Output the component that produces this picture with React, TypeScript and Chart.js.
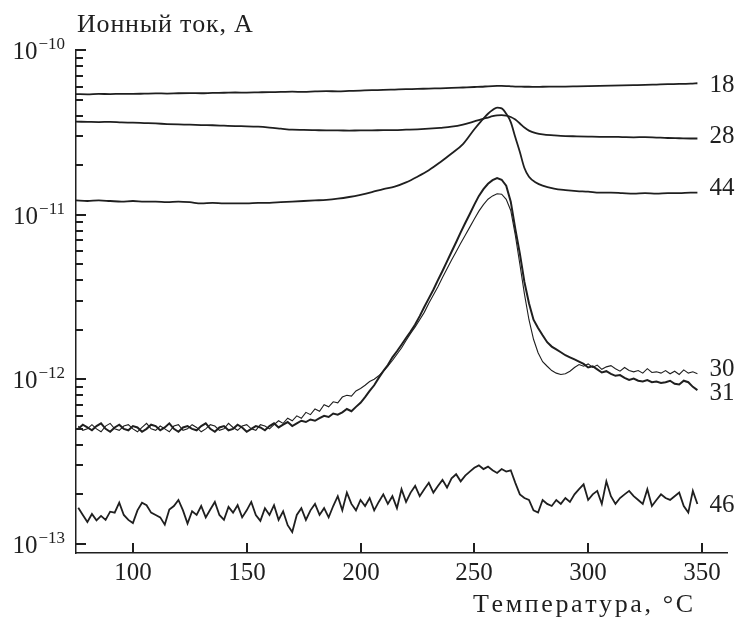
import React, { useEffect, useRef } from "react";
import { Chart, registerables } from "chart.js";

Chart.register(...registerables);

// Ion current values are written in pA (1e-12 A); converted to A for the axis.
const PA = 1e-12;

// Temperature grid (°C) for the smooth traces 18, 28, 44
const TEMP_SMOOTH = [
  75, 80, 85, 90, 95, 100, 105, 110, 115, 120,
  125, 130, 135, 140, 145, 150, 155, 160, 165, 170,
  175, 180, 185, 190, 195, 200, 205, 210, 215, 220,
  225, 230, 235, 240, 245, 250, 253, 256, 258, 260,
  262, 264, 266, 268, 270, 272, 274, 277, 280, 285,
  290, 295, 300, 305, 310, 315, 320, 325, 330, 335,
  340, 345, 348,
];

const ION_18 = [
  54.0, 53.8, 54.1, 54.0, 54.2, 54.1, 54.3, 54.5, 54.4, 54.6,
  54.7, 54.6, 54.9, 55.0, 55.2, 55.1, 55.3, 55.5, 55.6, 55.8,
  55.7, 56.0, 56.2, 56.1, 56.4, 56.7, 57.0, 57.2, 57.5, 57.8,
  58.0, 58.3, 58.5, 58.8, 59.2, 59.6, 59.8, 60.2, 60.4, 60.5,
  60.5, 60.4, 60.2, 60.0, 59.9, 59.8, 59.8, 59.7, 59.8, 59.9,
  60.0, 60.2, 60.4, 60.6, 60.8, 61.0, 61.2, 61.4, 61.7, 62.0,
  62.2, 62.5, 62.8,
];

const ION_28 = [
  36.7, 36.6, 36.5, 36.6, 36.3, 36.2, 36.0, 35.8, 35.5, 35.3,
  35.2, 35.0, 34.9, 34.7, 34.5, 34.4, 34.2, 33.8, 33.3, 32.8,
  32.7, 32.6, 32.5, 32.5, 32.4, 32.5, 32.5, 32.6, 32.6, 32.8,
  33.0, 33.3, 33.7, 34.2, 35.2, 36.8, 37.9, 38.9, 39.6, 40.1,
  40.2, 39.9, 39.2, 37.8, 35.8, 33.8, 32.4, 31.3, 30.7, 30.3,
  30.0, 29.9, 29.8, 29.7, 29.7, 29.6, 29.5, 29.6, 29.4, 29.2,
  29.1, 29.0, 29.0,
];

const ION_44 = [
  12.2, 12.1, 12.2, 12.1, 12.0, 12.1, 12.0, 12.0, 11.9, 12.0,
  11.9, 11.7, 11.8, 11.7, 11.7, 11.7, 11.8, 11.8, 11.9, 12.0,
  12.1, 12.2, 12.3, 12.5, 12.8, 13.2, 13.7, 14.3, 14.8, 15.7,
  17.0, 18.6, 20.8, 23.5, 26.8, 33.0, 37.0, 41.0, 43.2, 44.7,
  44.2, 41.0, 36.5, 29.5, 24.0, 19.2, 17.0, 15.7, 15.0, 14.4,
  14.1, 13.9, 13.8, 13.6, 13.6, 13.5, 13.4, 13.5, 13.4, 13.5,
  13.5, 13.6, 13.6,
];

// Temperature grid (°C) for the noisy traces 30, 31, 46
const TEMP_FINE = [
  76, 78, 80, 82, 84, 86, 88, 90, 92, 94,
  96, 98, 100, 102, 104, 106, 108, 110, 112, 114,
  116, 118, 120, 122, 124, 126, 128, 130, 132, 134,
  136, 138, 140, 142, 144, 146, 148, 150, 152, 154,
  156, 158, 160, 162, 164, 166, 168, 170, 172, 174,
  176, 178, 180, 182, 184, 186, 188, 190, 192, 194,
  196, 198, 200, 202, 204, 206, 208, 210, 212, 214,
  216, 218, 220, 222, 224, 226, 228, 230, 232, 234,
  236, 238, 240, 242, 244, 246, 248, 250, 252, 254,
  256, 258, 260, 262, 264, 266, 268, 270, 272, 274,
  276, 278, 280, 282, 284, 286, 288, 290, 292, 294,
  296, 298, 300, 302, 304, 306, 308, 310, 312, 314,
  316, 318, 320, 322, 324, 326, 328, 330, 332, 334,
  336, 338, 340, 342, 344, 346, 348,
];

const ION_30 = [
  0.52, 0.49, 0.50, 0.53, 0.50, 0.48, 0.52, 0.54, 0.50, 0.49,
  0.52, 0.53, 0.50, 0.48, 0.51, 0.54, 0.50, 0.49, 0.52, 0.50,
  0.48, 0.52, 0.53, 0.49, 0.50, 0.53, 0.51, 0.48, 0.50, 0.53,
  0.52, 0.49, 0.50, 0.54, 0.51, 0.49, 0.52, 0.53, 0.50, 0.49,
  0.53, 0.52, 0.50, 0.53, 0.56, 0.54, 0.58, 0.56, 0.60, 0.58,
  0.63, 0.61, 0.66, 0.64, 0.70, 0.68, 0.73, 0.72, 0.78, 0.80,
  0.79, 0.85, 0.88, 0.92, 0.97, 1.00, 1.05, 1.12, 1.20, 1.30,
  1.42, 1.55, 1.72, 1.90, 2.08, 2.30, 2.55, 2.90, 3.25, 3.65,
  4.15, 4.70, 5.30, 5.95, 6.70, 7.50, 8.40, 9.40, 10.5, 11.5,
  12.4, 13.0, 13.4, 13.3, 12.4, 10.6, 7.5, 5.0, 3.3, 2.3,
  1.75, 1.45, 1.28, 1.20, 1.13, 1.09, 1.07, 1.08, 1.12, 1.18,
  1.23, 1.20, 1.24, 1.18, 1.22, 1.15, 1.19, 1.21, 1.16, 1.12,
  1.18, 1.13, 1.11, 1.13, 1.09, 1.16, 1.10, 1.11, 1.09, 1.13,
  1.08, 1.12, 1.07, 1.14, 1.09, 1.11, 1.08,
];

const ION_31 = [
  0.50, 0.53, 0.51, 0.49, 0.52, 0.54, 0.50, 0.48, 0.51, 0.53,
  0.50, 0.49, 0.52, 0.51, 0.48, 0.50, 0.53, 0.52, 0.49, 0.51,
  0.54, 0.50, 0.48, 0.51, 0.52, 0.50, 0.49, 0.52, 0.54, 0.50,
  0.48, 0.51, 0.52, 0.49, 0.50, 0.53, 0.51, 0.48, 0.50, 0.52,
  0.51, 0.49, 0.52, 0.54, 0.51, 0.53, 0.55, 0.52, 0.54, 0.56,
  0.55, 0.57, 0.56, 0.58, 0.60, 0.59, 0.62, 0.61, 0.63, 0.66,
  0.64, 0.68, 0.72, 0.78, 0.85, 0.92, 1.02, 1.12, 1.22, 1.36,
  1.48, 1.62, 1.78, 1.95, 2.15, 2.42, 2.75, 3.10, 3.50, 4.00,
  4.55, 5.20, 5.95, 6.80, 7.80, 8.90, 10.1, 11.5, 13.0, 14.3,
  15.4, 16.2, 16.7, 16.3, 15.0, 12.0, 8.2, 5.8, 3.9, 2.9,
  2.30, 2.05, 1.85, 1.68, 1.58, 1.52, 1.46, 1.40, 1.36, 1.32,
  1.28, 1.24, 1.18, 1.20, 1.15, 1.10, 1.12, 1.08, 1.05, 1.06,
  1.02, 0.99, 1.01, 0.98, 0.97, 0.99, 0.96, 0.97, 0.95, 0.96,
  0.98, 0.94, 0.93, 0.98, 0.96, 0.90, 0.86,
];

const ION_46 = [
  0.166, 0.150, 0.136, 0.152, 0.139, 0.148, 0.140, 0.157, 0.155, 0.178,
  0.150, 0.140, 0.134, 0.160, 0.178, 0.172, 0.155, 0.150, 0.145, 0.131,
  0.162, 0.170, 0.185, 0.160, 0.133, 0.158, 0.150, 0.170, 0.145, 0.162,
  0.180, 0.150, 0.140, 0.168, 0.155, 0.172, 0.145, 0.160, 0.180, 0.150,
  0.138, 0.165, 0.150, 0.172, 0.140, 0.158, 0.130, 0.118, 0.150, 0.165,
  0.140, 0.160, 0.175, 0.150, 0.165, 0.145, 0.170, 0.195, 0.160, 0.205,
  0.175, 0.160, 0.185, 0.170, 0.190, 0.160, 0.180, 0.200, 0.175, 0.195,
  0.165, 0.215, 0.180, 0.205, 0.225, 0.195, 0.215, 0.235, 0.205, 0.225,
  0.245, 0.220, 0.250, 0.265, 0.240, 0.260, 0.275, 0.290, 0.300, 0.285,
  0.295, 0.280, 0.270, 0.285, 0.275, 0.280, 0.235, 0.200, 0.190, 0.185,
  0.160, 0.155, 0.185, 0.175, 0.170, 0.185, 0.175, 0.190, 0.180, 0.200,
  0.215, 0.230, 0.185, 0.200, 0.210, 0.175, 0.240, 0.195, 0.175, 0.190,
  0.200, 0.210, 0.195, 0.185, 0.175, 0.215, 0.170, 0.185, 0.200, 0.190,
  0.185, 0.195, 0.205, 0.170, 0.155, 0.210, 0.175,
];

const SERIES_LABELS = ["18", "28", "44", "30", "31", "46"];
const X_TICKS = [100, 150, 200, 250, 300, 350];
const Y_DECADES = [-13, -12, -11, -10];
const Y_MANTISSAS = [1, 2, 3, 4, 5, 6, 7, 8, 9];
const Y_TITLE = "Ионный ток, А";
const X_TITLE = "Температура, °C";

const INK = "#1f1f1f";
const FONT = '"Liberation Serif", "Times New Roman", serif';

const SERIES_STYLE = [
  { temps: TEMP_SMOOTH, values: ION_18, width: 1.8, smooth: true, dy: 1 },
  { temps: TEMP_SMOOTH, values: ION_28, width: 1.8, smooth: true, dy: -4 },
  { temps: TEMP_SMOOTH, values: ION_44, width: 1.8, smooth: true, dy: -6 },
  { temps: TEMP_FINE, values: ION_30, width: 1.1, smooth: false, dy: -6 },
  { temps: TEMP_FINE, values: ION_31, width: 2.0, smooth: false, dy: 2 },
  { temps: TEMP_FINE, values: ION_46, width: 1.8, smooth: false, dy: 0 },
];

const SUPERSCRIPTS: Record<string, string> = {
  "-13": "\u221213",
  "-12": "\u221212",
  "-11": "\u221211",
  "-10": "\u221210",
};

function spacedText(ctx: any, text: string, x: number, y: number, spacing: number, align: string) {
  let total = 0;
  const widths: number[] = [];
  for (const ch of text) {
    const w = ctx.measureText(ch).width;
    widths.push(w);
    total += w;
  }
  total += spacing * (widths.length - 1);
  let cx = align === "right" ? x - total : x;
  ctx.textAlign = "left";
  let i = 0;
  for (const ch of text) {
    ctx.fillText(ch, cx, y);
    cx += widths[i] + spacing;
    i++;
  }
}

const decorPlugin = {
  id: "decor",
  afterDraw(chart: any) {
    const { ctx, chartArea: ca, scales } = chart;
    const xs = scales.x;
    const ys = scales.y;
    const left = Math.round(ca.left);
    const bottom = Math.round(ca.bottom);
    ctx.save();
    ctx.fillStyle = INK;

    // y tick marks pointing into the plot
    Y_DECADES.forEach((d) => {
      Y_MANTISSAS.forEach((m) => {
        if (d === -10 && m > 1) return;
        const py = Math.round(ys.getPixelForValue(m * Math.pow(10, d)));
        const len = m === 1 ? 10 : 7;
        ctx.fillRect(left, py - 1, len, 2);
      });
    });

    // x tick marks pointing into the plot
    X_TICKS.forEach((t) => {
      const px = Math.round(xs.getPixelForValue(t));
      ctx.fillRect(px - 1, bottom - 10, 2, 10);
    });

    // y tick labels 10^n
    Y_DECADES.forEach((d) => {
      const py = ys.getPixelForValue(Math.pow(10, d));
      const sup = SUPERSCRIPTS[String(d)];
      ctx.textBaseline = "alphabetic";
      ctx.font = `17px ${FONT}`;
      const supW = ctx.measureText(sup).width;
      const right = ca.left - 11;
      ctx.textAlign = "left";
      ctx.fillText(sup, right - supW, py - 1);
      ctx.font = `25px ${FONT}`;
      ctx.textAlign = "right";
      ctx.fillText("10", right - supW - 1, py + 9);
    });

    // x tick labels
    ctx.font = `25px ${FONT}`;
    ctx.textAlign = "center";
    ctx.textBaseline = "alphabetic";
    X_TICKS.forEach((t) => {
      const px = Math.round(xs.getPixelForValue(t));
      ctx.fillText(String(t), px, ca.bottom + 27);
    });

    // axis titles
    ctx.font = `26px ${FONT}`;
    spacedText(ctx, X_TITLE, ca.right - 34, ca.bottom + 59, 2.6, "right");
    spacedText(ctx, Y_TITLE, ca.left + 1, ca.top - 18, 0.8, "left");

    // series labels at the right end of each trace
    ctx.font = `25px ${FONT}`;
    chart.data.datasets.forEach((ds: any, i: number) => {
      const meta = chart.getDatasetMeta(i);
      const last = meta.data[meta.data.length - 1];
      if (!last) return;
      ctx.textAlign = "left";
      ctx.fillText(SERIES_LABELS[i], last.x + 12, last.y + SERIES_STYLE[i].dy + 8);
    });

    ctx.restore();
  },
};

export default function App() {
  const canvasRef = useRef<HTMLCanvasElement | null>(null);

  useEffect(() => {
    if (!canvasRef.current) return;
    const datasets = SERIES_STYLE.map((s, i) => ({
      label: SERIES_LABELS[i],
      data: s.temps.map((t, k) => ({ x: t, y: s.values[k] * PA })),
      borderColor: INK,
      backgroundColor: INK,
      borderWidth: s.width,
      pointRadius: 0,
      fill: false,
      tension: 0,
      cubicInterpolationMode: s.smooth ? ("monotone" as const) : ("default" as const),
    }));

    const chart = new Chart(canvasRef.current, {
      type: "line",
      data: { datasets },
      options: {
        animation: false,
        responsive: false,
        devicePixelRatio: 1,
        layout: { padding: { left: 0, top: 50, right: 23, bottom: 0 } },
        plugins: { legend: { display: false }, tooltip: { enabled: false } },
        scales: {
          x: {
            type: "linear",
            min: 75,
            max: 361,
            grid: { display: false },
            border: { display: true, color: INK, width: 1.5 },
            ticks: { display: false },
            afterFit: (s: any) => {
              s.height = 67;
            },
          },
          y: {
            type: "logarithmic",
            min: 8.81e-14,
            max: 1e-10,
            grid: { display: false },
            border: { display: true, color: INK, width: 1.5 },
            ticks: { display: false },
            afterFit: (s: any) => {
              s.width = 76;
            },
          },
        },
      },
      plugins: [decorPlugin],
    });
    return () => chart.destroy();
  }, []);

  return (
    <div style={{ position: "absolute", left: 0, top: 0, width: 750, height: 620, background: "#fff" }}>
      <canvas ref={canvasRef} width={750} height={620} style={{ display: "block", width: 750, height: 620 }} />
    </div>
  );
}
